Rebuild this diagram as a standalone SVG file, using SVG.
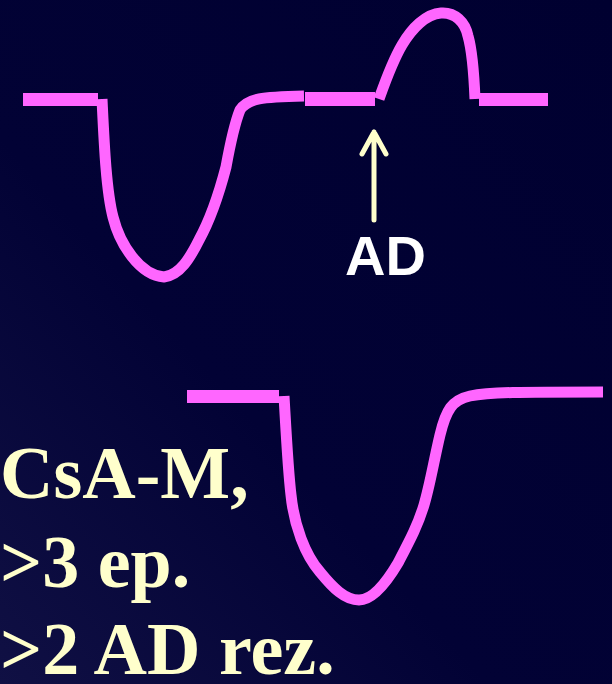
<svg xmlns="http://www.w3.org/2000/svg" width="612" height="684" viewBox="0 0 612 684">
  <defs>
    <linearGradient id="bg" x1="1" y1="0" x2="0" y2="1">
      <stop offset="0" stop-color="#000030"/>
      <stop offset="0.6" stop-color="#020235"/>
      <stop offset="1" stop-color="#101044"/>
    </linearGradient>
    <style>
      .trace { fill: none; stroke: #ff66ff; stroke-width: 11; stroke-linejoin: round; }
      .flat { fill: #ff66ff; }
      .yel { font-family: "Liberation Serif", "Times New Roman", serif; font-weight: bold; font-size: 74px; fill: #ffffcc; }
      .ad { font-family: "Liberation Sans", Arial, sans-serif; font-weight: bold; font-size: 56px; fill: #ffffff; }
      .arrow { fill: none; stroke: #ffffcc; stroke-width: 5; stroke-linecap: round; stroke-linejoin: round; }
    </style>
  </defs>
  <rect x="0" y="0" width="612" height="684" fill="url(#bg)"/>

  <g id="trace-top">
    <rect class="flat" x="23" y="93" width="75" height="13"/>
    <path class="trace" d="M102,99 C104,140 106,190 113,217 C120,245 140,275 164,277 C180,275 190,258 199,240 C210,220 220,190 226,167 C230,145 234,125 240,110 C248,98 262,97 304,96"/>
    <rect class="flat" x="305" y="92" width="70" height="14"/>
    <path class="trace" d="M379,99 C384,85 392,62 402,45 C412,28 426,14 441,13 C455,12 465,22 468,36 C472,50 474,75 475,99"/>
    <rect class="flat" x="479" y="93" width="69" height="13"/>
  </g>

  <g id="ad-marker">
    <path class="arrow" d="M374,220 L374,132 M362,154 L374,132 L386,154"/>
    <text class="ad" x="345" y="275">AD</text>
  </g>

  <g id="trace-bottom">
    <rect class="flat" x="187" y="390" width="92" height="13"/>
    <path class="trace" d="M284,396 C286,430 288,470 291,495 C294,525 305,555 320,572 C333,588 345,600 359,600 C372,600 385,585 398,563 C410,540 418,525 424,505 C430,485 434,460 440,435 C446,410 452,400 470,396 C490,392 520,392 603,392"/>
  </g>

  <g id="caption">
    <text class="yel" x="0" y="498">CsA-M,</text>
    <text class="yel" x="0" y="587">&gt;3 ep.</text>
    <text class="yel" x="0" y="674">&gt;2 AD rez.</text>
  </g>
</svg>
